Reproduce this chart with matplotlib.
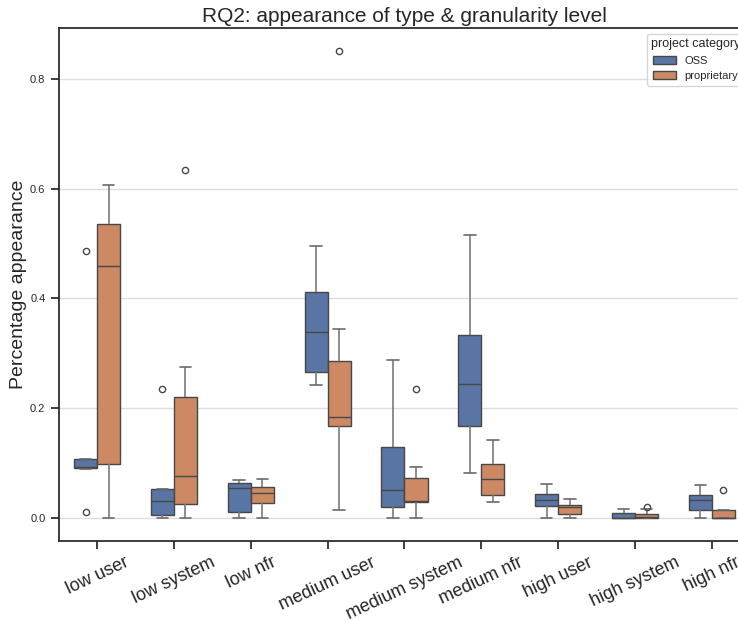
import matplotlib
matplotlib.use("Agg")
import matplotlib.pyplot as plt
import seaborn as sns
import pandas as pd

categories = ["low user", "low system", "low nfr", "medium user", "medium system",
              "medium nfr", "high user", "high system", "high nfr"]
hues = ["OSS", "proprietary"]

oss_values = {
    "low user":      [0.01, 0.0885, 0.090, 0.091, 0.0915, 0.100, 0.107, 0.107, 0.487],
    "low system":    [0.0, 0.002, 0.005, 0.02, 0.0303, 0.045, 0.0527, 0.053, 0.234],
    "low nfr":       [0.0, 0.005, 0.0097, 0.03, 0.054, 0.06, 0.063, 0.065, 0.0685],
    "medium user":   [0.2424, 0.25, 0.2655, 0.30, 0.339, 0.38, 0.412, 0.45, 0.495],
    "medium system": [0.0, 0.01, 0.0194, 0.035, 0.0497, 0.09, 0.128, 0.20, 0.287],
    "medium nfr":    [0.0806, 0.12, 0.1667, 0.20, 0.243, 0.29, 0.3333, 0.42, 0.515],
    "high user":     [0.0, 0.01, 0.0206, 0.025, 0.0315, 0.038, 0.0436, 0.05, 0.0618],
    "high system":   [0.0, 0.0, 0.0, 0.0, 0.0, 0.005, 0.0085, 0.012, 0.0164],
    "high nfr":      [0.0, 0.008, 0.0145, 0.025, 0.0321, 0.036, 0.0406, 0.05, 0.0588],
}
prop_values = {
    "low user":      [0.0, 0.05, 0.098, 0.30, 0.459, 0.50, 0.536, 0.58, 0.607],
    "low system":    [0.0, 0.01, 0.0255, 0.05, 0.0758, 0.15, 0.2206, 0.275, 0.633],
    "low nfr":       [0.0, 0.01, 0.0267, 0.035, 0.0442, 0.05, 0.0558, 0.065, 0.0709],
    "medium user":   [0.0145, 0.12, 0.1667, 0.175, 0.183, 0.24, 0.2855, 0.3436, 0.85],
    "medium system": [0.0, 0.01, 0.0285, 0.030, 0.0309, 0.05, 0.0715, 0.0915, 0.235],
    "medium nfr":    [0.0291, 0.035, 0.0412, 0.055, 0.0709, 0.085, 0.097, 0.12, 0.1424],
    "high user":     [0.0, 0.003, 0.0073, 0.012, 0.0194, 0.021, 0.0236, 0.03, 0.034],
    "high system":   [0.0, 0.0, 0.0, 0.001, 0.002, 0.004, 0.0067, 0.0152, 0.0194],
    "high nfr":      [0.0, 0.0, 0.0, 0.0, 0.0, 0.005, 0.0133, 0.0133, 0.051],
}

rows = []
for cat in categories:
    for v in oss_values[cat]:
        rows.append((cat, "OSS", v))
    for v in prop_values[cat]:
        rows.append((cat, "proprietary", v))
df = pd.DataFrame(rows, columns=["type", "project category", "value"])

sns.set_theme(style="ticks")
plt.rcParams['font.family'] = ['Liberation Sans', 'DejaVu Sans']

fig = plt.figure(figsize=(7.38, 6.2), dpi=100)
ax = fig.add_axes([0.0794, 0.1274, 0.9374, 0.8274])
ax.yaxis.grid(True, color="#dddddd", linewidth=1)
ax.set_axisbelow(True)
sns.boxplot(data=df, x="type", y="value", hue="project category", order=categories,
            hue_order=hues, width=0.6, ax=ax, linewidth=1, fliersize=4.5,
            boxprops=dict(edgecolor="#474747"),
            medianprops=dict(color="#474747"),
            whiskerprops=dict(color="#7a7a7a", linewidth=1.2),
            capprops=dict(color="#6a6a6a", linewidth=1.2),
            flierprops=dict(markeredgecolor="#474747"))
ax.set_title("RQ2: appearance of type & granularity level", fontsize=15, pad=4)
ax.set_ylabel("Percentage appearance", fontsize=14, labelpad=2)
ax.set_xlabel("")
ax.tick_params(axis="y", labelsize=8)
ax.tick_params(axis="x", labelsize=13)
for lbl in ax.get_xticklabels():
    lbl.set_rotation(25)
leg = ax.legend(title="project category", loc="upper right", fontsize=8, title_fontsize=9)
fig.savefig("out.png", dpi=100)
